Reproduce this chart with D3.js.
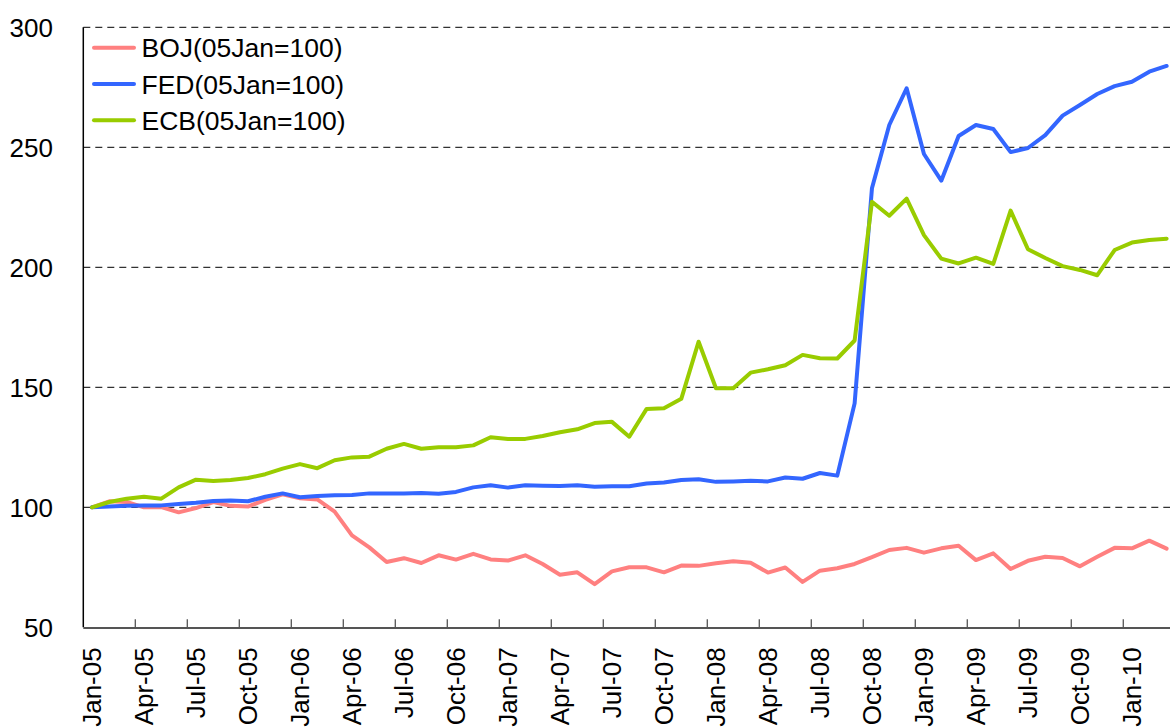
<!DOCTYPE html>
<html>
<head>
<meta charset="utf-8">
<script src="https://cdn.jsdelivr.net/npm/d3@7"></script>
<style>
  body { margin: 0; background: #fff; }
  svg { display: block; font-family: "Liberation Sans", Arial, sans-serif; }
</style>
</head>
<body>
<svg id="chart" width="1170" height="727"></svg>
<script>
// monthly categories Jan-05 .. Mar-10
const months = d3.utcMonth.range(new Date(Date.UTC(2005, 0, 1)), new Date(Date.UTC(2010, 3, 1)));
const monthLabel = d3.utcFormat('%b-%y');

const yTicks = [50, 100, 150, 200, 250, 300];

const bojValues = [
  100, 102.5, 102.2, 100, 100.1, 97.9, 99.7, 102.2, 100.6, 100.3, 103.1, 105.4,
  103.8, 103.3, 98.2, 88.3, 83.3, 77.2, 78.8, 76.8, 80, 78.2, 80.6, 78.3,
  77.8, 80, 76.4, 71.9, 72.9, 68, 73.3, 75, 75, 72.9, 75.7, 75.6,
  76.7, 77.5, 76.9, 72.8, 74.9, 68.9, 73.6, 74.6, 76.4, 79.2, 82.2, 83.1,
  81.1, 82.9, 84, 78, 80.8, 74.3, 77.7, 79.4, 78.9, 75.4, 79.4, 83.1,
  82.9, 86.1, 82.8
];

const fedValues = [
  100, 100.3, 100.6, 100.8, 100.8, 101.4, 101.9, 102.6, 102.8, 102.5, 104.4, 105.8,
  104.2, 104.7, 105, 105.1, 105.8, 105.7, 105.8, 106, 105.6, 106.4, 108.3, 109.2,
  108.2, 109.2, 109, 108.9, 109.2, 108.6, 108.8, 108.8, 109.9, 110.3, 111.4, 111.7,
  110.6, 110.8, 111.1, 110.8, 112.4, 111.9, 114.3, 113.2, 143.3, 232.9, 259.3, 274.6,
  247.2, 236.1, 254.7, 259.3, 257.6, 248, 249.7, 255.1, 263.2, 267.6, 272.2, 275.5,
  277.3, 281.5, 283.9
];

const ecbValues = [
  100, 102.2, 103.6, 104.4, 103.6, 108.3, 111.5, 111, 111.4, 112.2, 113.8, 116.1,
  118, 116.3, 119.6, 120.8, 121.1, 124.4, 126.4, 124.4, 125, 125, 125.8, 129.2,
  128.5, 128.5, 129.7, 131.3, 132.5, 135.1, 135.6, 129.4, 141, 141.3, 145.2, 169,
  149.6, 149.6, 156.1, 157.5, 159.2, 163.5, 162.1, 162, 169.5, 227.3, 221.5, 228.6,
  213.4, 203.6, 201.6, 204, 201.4, 223.6, 207.5, 203.9, 200.5, 198.9, 196.7, 207.2,
  210.3, 211.4, 211.9
];

const seriesNames = ['BOJ(05Jan=100)', 'FED(05Jan=100)', 'ECB(05Jan=100)'];
const seriesColors = ['#ff8080', '#3366ff', '#99cc00'];
const seriesValues = [bojValues, fedValues, ecbValues];

const svg = d3.select('#chart');
const margin = { left: 83.3, top: 27.3 };
const bandW = 17.333;
const plotW = months.length * bandW;
const plotH = 600;

const x = d3.scaleBand()
  .domain(d3.range(months.length))
  .range([margin.left, margin.left + plotW])
  .padding(0);

const y = d3.scaleLinear()
  .domain([50, 300])
  .range([margin.top + plotH, margin.top]);

const xc = i => x(i) + x.bandwidth() / 2;

// gridlines
svg.append('g').selectAll('line')
  .data(yTicks.filter(v => v > 50))
  .enter()
  .append('line')
  .attr('x1', margin.left)
  .attr('x2', margin.left + plotW)
  .attr('y1', d => y(d))
  .attr('y2', d => y(d))
  .attr('stroke', '#333')
  .attr('stroke-width', 1.2)
  .attr('stroke-dasharray', '7,5');

// y labels
svg.append('g').selectAll('text')
  .data(yTicks)
  .enter()
  .append('text')
  .attr('x', 53)
  .attr('y', d => y(d))
  .attr('dy', '0.36em')
  .attr('text-anchor', 'end')
  .attr('font-size', 26)
  .attr('fill', '#000')
  .text(d => d);

// y axis line
svg.append('line')
  .attr('x1', margin.left).attr('x2', margin.left)
  .attr('y1', margin.top).attr('y2', margin.top + plotH)
  .attr('stroke', '#000')
  .attr('stroke-width', 1.5);

// x axis
const quarterIdx = d3.range(0, months.length, 3);

svg.append('line')
  .attr('x1', margin.left).attr('x2', margin.left + plotW)
  .attr('y1', y(50) + 0.8).attr('y2', y(50) + 0.8)
  .attr('stroke', '#555')
  .attr('stroke-width', 2);

svg.append('g').selectAll('line')
  .data(quarterIdx.filter(i => i > 0))
  .enter()
  .append('line')
  .attr('x1', d => x(d)).attr('x2', d => x(d))
  .attr('y1', y(50) - 8).attr('y2', y(50))
  .attr('stroke', '#555')
  .attr('stroke-width', 1.3);

svg.append('g').selectAll('text')
  .data(quarterIdx)
  .enter()
  .append('text')
  .attr('transform', d => `translate(${xc(d)}, ${y(50) + 20}) rotate(-90)`)
  .attr('dy', '0.36em')
  .attr('text-anchor', 'end')
  .attr('font-size', 26)
  .attr('fill', '#000')
  .text(d => monthLabel(months[d]));

// series lines
const line = d3.line()
  .x((d, i) => xc(i))
  .y(d => y(d));

svg.append('g').selectAll('path')
  .data(seriesValues)
  .enter()
  .append('path')
  .attr('d', d => line(d))
  .attr('fill', 'none')
  .attr('stroke', (d, i) => seriesColors[i])
  .attr('stroke-width', 4)
  .attr('stroke-linejoin', 'round')
  .attr('stroke-linecap', 'round');

// legend
const legend = svg.append('g').attr('transform', 'translate(94, 47.7)');
const items = legend.selectAll('g')
  .data(seriesNames)
  .enter()
  .append('g')
  .attr('transform', (d, i) => `translate(0, ${i * 36.3})`);

items.append('line')
  .attr('x1', 0).attr('x2', 40)
  .attr('stroke', (d, i) => seriesColors[i])
  .attr('stroke-width', 4)
  .attr('stroke-linecap', 'round');

items.append('text')
  .attr('x', 47.5)
  .attr('dy', '0.36em')
  .attr('font-size', 26.5)
  .attr('fill', '#000')
  .text(d => d);
</script>
</body>
</html>
